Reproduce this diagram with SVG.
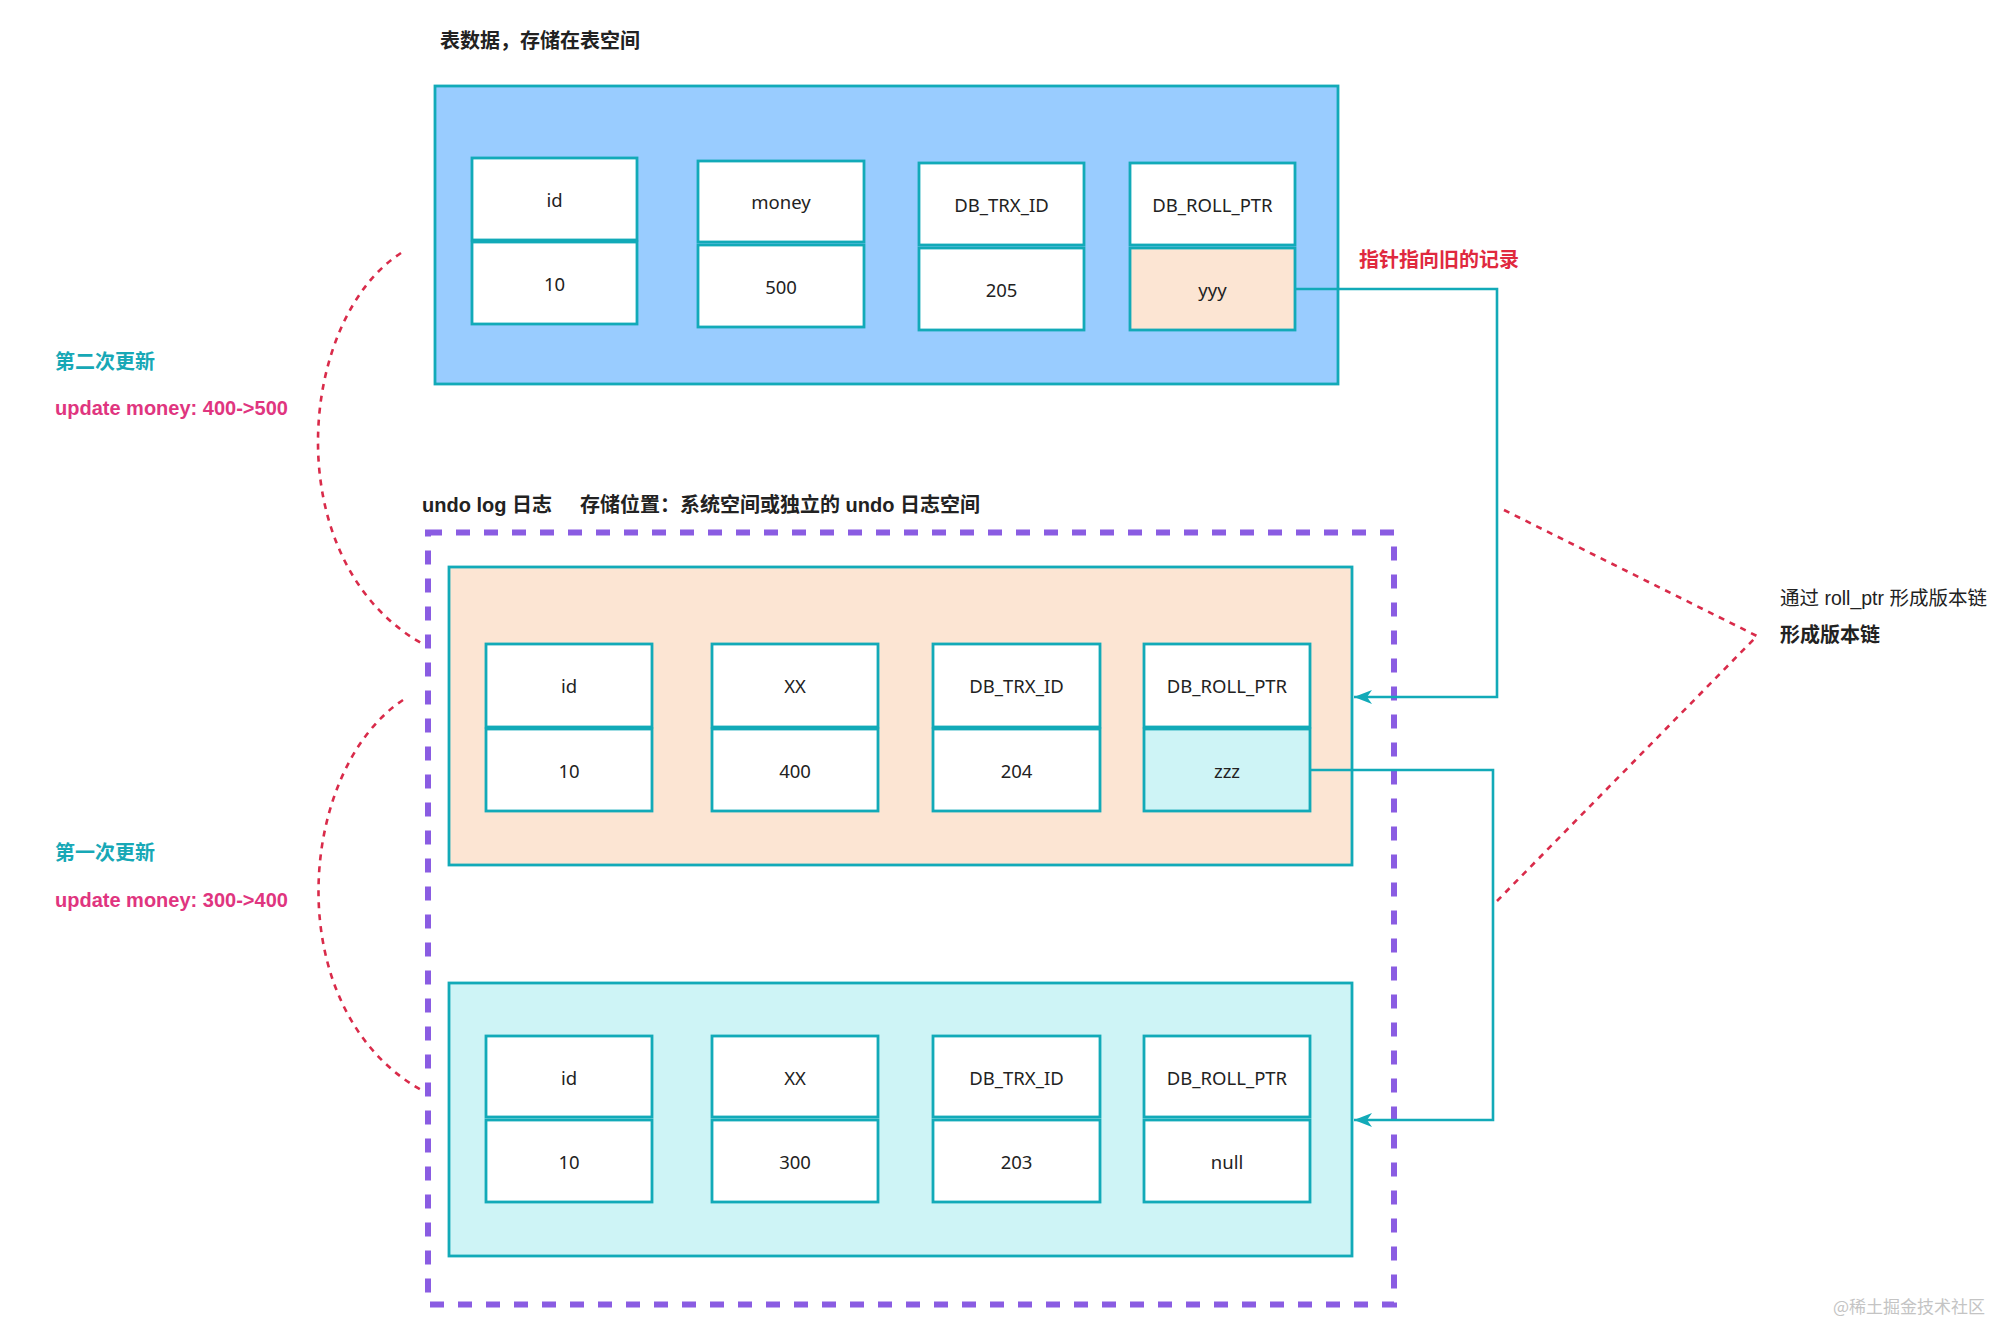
<svg xmlns="http://www.w3.org/2000/svg" width="1999" height="1321" viewBox="0 0 1999 1321">
<style>
  .cell{fill:#ffffff;stroke:#12aab8;stroke-width:2.8}
  .frame{stroke:#12aab8;stroke-width:2.8}
  .ct{font-family:"Noto Sans","Liberation Sans",sans-serif;font-size:18.5px;fill:#222;text-anchor:middle;dominant-baseline:central}
  .bt{font-family:"Liberation Sans","Noto Sans CJK SC",sans-serif;font-size:20px;font-weight:700;dominant-baseline:central}
  .conn{fill:none;stroke:#12aab8;stroke-width:2.6}
  .red{fill:none;stroke:#d92b4a;stroke-width:2.6;stroke-dasharray:6 6}
</style>
<defs>
  <marker id="arr" markerUnits="userSpaceOnUse" markerWidth="20" markerHeight="16" viewBox="0 0 20 16" refX="19" refY="8" orient="auto">
    <path d="M19,8 L1,1 L6,8 L1,15 Z" fill="#12aab8"/>
  </marker>
</defs>
<rect width="1999" height="1321" fill="#ffffff"/>

<g id="title-table">
  <text class="bt" x="440" y="41" fill="#222">表数据，存储在表空间</text>
</g>

<g id="table-record">
  <rect class="frame" x="435" y="86" width="903" height="298" fill="#99ccff"/>
  <rect class="cell" x="472" y="158" width="165" height="82"/>
  <rect class="cell" x="472" y="242" width="165" height="82"/>
  <text class="ct" x="554.5" y="199">id</text>
  <text class="ct" x="554.5" y="283">10</text>
  <rect class="cell" x="698" y="161" width="166" height="81"/>
  <rect class="cell" x="698" y="245" width="166" height="82"/>
  <text class="ct" x="781" y="201">money</text>
  <text class="ct" x="781" y="286">500</text>
  <rect class="cell" x="919" y="163" width="165" height="82"/>
  <rect class="cell" x="919" y="248" width="165" height="82"/>
  <text class="ct" x="1001.5" y="204">DB_TRX_ID</text>
  <text class="ct" x="1001.5" y="289">205</text>
  <rect class="cell" x="1130" y="163" width="165" height="82"/>
  <rect class="cell" x="1130" y="248" width="165" height="82" style="fill:#fce5d3"/>
  <text class="ct" x="1212.5" y="204">DB_ROLL_PTR</text>
  <text class="ct" x="1212.5" y="289">yyy</text>
</g>

<g id="label-second-update">
  <text class="bt" x="55" y="362" fill="#17a8b6">第二次更新</text>
  <text class="bt" x="55" y="408" fill="#e0357f">update money: 400-&gt;500</text>
</g>

<g id="label-first-update">
  <text class="bt" x="55" y="853" fill="#17a8b6">第一次更新</text>
  <text class="bt" x="55" y="900" fill="#e0357f">update money: 300-&gt;400</text>
</g>

<g id="title-undo">
  <text class="bt" x="422" y="505" fill="#222">undo log 日志</text>
  <text class="bt" x="580" y="505" fill="#222">存储位置：系统空间或独立的 undo 日志空间</text>
</g>

<g id="undo-log-space">
  <rect x="428" y="532.5" width="966" height="772" fill="none" stroke="#8a5ce2" stroke-width="6" stroke-dasharray="14 14"/>
</g>

<g id="undo-record-1">
  <rect class="frame" x="449" y="567" width="903" height="298" fill="#fce5d3"/>
  <rect class="cell" x="486" y="644" width="166" height="83"/>
  <rect class="cell" x="486" y="729" width="166" height="82"/>
  <text class="ct" x="569" y="685.5">id</text>
  <text class="ct" x="569" y="770">10</text>
  <rect class="cell" x="712" y="644" width="166" height="83"/>
  <rect class="cell" x="712" y="729" width="166" height="82"/>
  <text class="ct" x="795" y="685.5">XX</text>
  <text class="ct" x="795" y="770">400</text>
  <rect class="cell" x="933" y="644" width="167" height="83"/>
  <rect class="cell" x="933" y="729" width="167" height="82"/>
  <text class="ct" x="1016.5" y="685.5">DB_TRX_ID</text>
  <text class="ct" x="1016.5" y="770">204</text>
  <rect class="cell" x="1144" y="644" width="166" height="83"/>
  <rect class="cell" x="1144" y="729" width="166" height="82" style="fill:#cef4f6"/>
  <text class="ct" x="1227" y="685.5">DB_ROLL_PTR</text>
  <text class="ct" x="1227" y="770">zzz</text>
</g>

<g id="undo-record-2">
  <rect class="frame" x="449" y="983" width="903" height="273" fill="#cef4f6"/>
  <rect class="cell" x="486" y="1036" width="166" height="81"/>
  <rect class="cell" x="486" y="1120" width="166" height="82"/>
  <text class="ct" x="569" y="1077">id</text>
  <text class="ct" x="569" y="1161">10</text>
  <rect class="cell" x="712" y="1036" width="166" height="81"/>
  <rect class="cell" x="712" y="1120" width="166" height="82"/>
  <text class="ct" x="795" y="1077">XX</text>
  <text class="ct" x="795" y="1161">300</text>
  <rect class="cell" x="933" y="1036" width="167" height="81"/>
  <rect class="cell" x="933" y="1120" width="167" height="82"/>
  <text class="ct" x="1016.5" y="1077">DB_TRX_ID</text>
  <text class="ct" x="1016.5" y="1161">203</text>
  <rect class="cell" x="1144" y="1036" width="166" height="81"/>
  <rect class="cell" x="1144" y="1120" width="166" height="82"/>
  <text class="ct" x="1227" y="1077">DB_ROLL_PTR</text>
  <text class="ct" x="1227" y="1161">null</text>
</g>

<g id="label-pointer">
  <text class="bt" x="1359" y="260" fill="#e0293e">指针指向旧的记录</text>
</g>

<g id="label-chain">
  <text x="1780" y="598" font-family="Liberation Sans,'Noto Sans CJK SC',sans-serif" font-size="19.5" fill="#222" dominant-baseline="central">通过 roll_ptr 形成版本链</text>
  <text class="bt" x="1780" y="635" fill="#222">形成版本链</text>
</g>

<g id="connectors">
  <path class="conn" d="M1296,289 H1497 V697 H1354" marker-end="url(#arr)"/>
  <path class="conn" d="M1310,770 H1493 V1120 H1354" marker-end="url(#arr)"/>
  <path class="red" d="M401,253 C297,320 277,560 421,643"/>
  <path class="red" d="M403,700 C297,770 277,1010 423,1091"/>
  <path class="red" d="M1504,510 L1757,636 L1497,901"/>
</g>

<g id="watermark">
  <text x="1833" y="1305" font-family="'Noto Sans CJK SC',sans-serif" font-size="17" fill="#c4c4c4" dominant-baseline="central">@稀土掘金技术社区</text>
</g>
</svg>
